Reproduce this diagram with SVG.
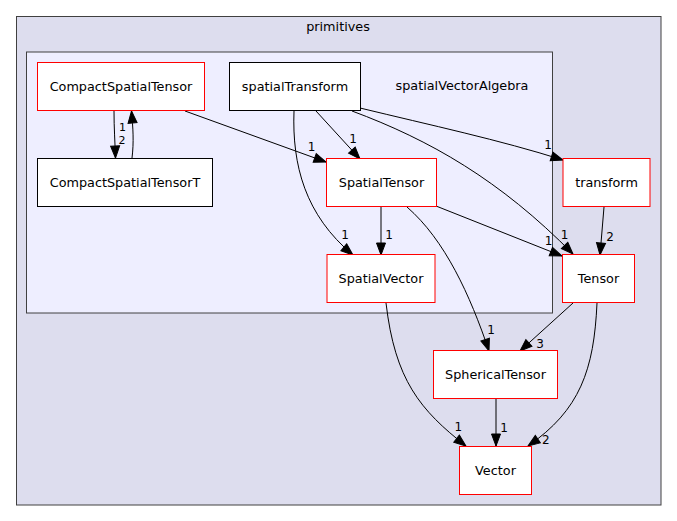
<svg xmlns="http://www.w3.org/2000/svg" width="677" height="521" viewBox="0 0 677 521">
<style>
text{font-family:"DejaVu Sans","Liberation Sans",sans-serif;font-size:12.8px;fill:#000;text-anchor:middle}
.el{font-size:12px}
.sm{font-size:11px}
.cl{stroke:#404040;stroke-width:1}
.nr rect{fill:#fff;stroke:#ff0000;stroke-width:1}
.nb rect{fill:#fff;stroke:#000;stroke-width:1}
#edges path{fill:none;stroke:#000;stroke-width:1;marker-end:url(#ah)}
</style>
<defs>
<marker id="ah" markerUnits="userSpaceOnUse" markerWidth="12" markerHeight="9" refX="12" refY="4.5" orient="auto" overflow="visible">
<path d="M0,0 L12,4.5 L0,9 z" fill="#000" stroke="#000" stroke-width="1"/>
</marker>
</defs>
<rect width="677" height="521" fill="#fff"/>
<g id="cluster-primitives">
<rect class="cl" x="16.5" y="16.5" width="644.5" height="488.5" fill="#ddddee"/>
<text x="338" y="31">primitives</text>
</g>
<g id="cluster-spatialVectorAlgebra">
<rect class="cl" x="26.5" y="52" width="526" height="261" fill="#eeeeff"/>
<text x="462" y="90">spatialVectorAlgebra</text>
</g>
<g id="edges">
<path d="M114,111 C114,128 115,142 115.5,158"/>
<path d="M132,158 C134,142 133,128 131.5,111"/>
<path d="M185,111 L326,162"/>
<path d="M316,111 L360,159"/>
<path d="M294,111 C292,165 305,215 353,255"/>
<path d="M352,111 C430,140 500,180 573,254"/>
<path d="M360,108 C430,125 500,140 563,160"/>
<path d="M381,207 L381,255"/>
<path d="M436,206 L562,256"/>
<path d="M407,207 C445,240 470,295 489,351"/>
<path d="M604,207 L600,255"/>
<path d="M573,303 L520,351"/>
<path d="M597,303 C594,370 580,410 528,446"/>
<path d="M386,303 C395,380 420,410 466,446"/>
<path d="M496,398 L496,446"/>
<text class="el sm" x="122.5" y="131">1</text>
<text class="el sm" x="122" y="144">2</text>
<text class="el" x="311.5" y="151">1</text>
<text class="el" x="353" y="143">1</text>
<text class="el" x="345" y="239">1</text>
<text class="el" x="564.5" y="239">1</text>
<text class="el" x="548" y="149">1</text>
<text class="el" x="389" y="239">1</text>
<text class="el" x="548.5" y="245">1</text>
<text class="el" x="491" y="334">1</text>
<text class="el" x="610" y="240.5">2</text>
<text class="el" x="540" y="347.5">3</text>
<text class="el" x="545.7" y="444">2</text>
<text class="el" x="458.3" y="430.5">1</text>
<text class="el" x="504" y="431.5">1</text>
</g>
<g id="node-CompactSpatialTensor" class="nr"><rect x="37.5" y="62.5" width="167" height="48"/><text x="121" y="91">CompactSpatialTensor</text></g>
<g id="node-spatialTransform" class="nb"><rect x="229.5" y="62.5" width="131" height="48"/><text x="295" y="91">spatialTransform</text></g>
<g id="node-CompactSpatialTensorT" class="nb"><rect x="37.5" y="158.5" width="175" height="48"/><text x="125" y="187">CompactSpatialTensorT</text></g>
<g id="node-SpatialTensor" class="nr"><rect x="326.5" y="158.5" width="110" height="48"/><text x="381.5" y="187">SpatialTensor</text></g>
<g id="node-SpatialVector" class="nr"><rect x="327" y="254.5" width="108" height="48"/><text x="381" y="283">SpatialVector</text></g>
<g id="node-transform" class="nr"><rect x="563" y="158.5" width="87" height="48"/><text x="606.5" y="187">transform</text></g>
<g id="node-Tensor" class="nr"><rect x="562.5" y="254.5" width="72" height="48"/><text x="598.5" y="283">Tensor</text></g>
<g id="node-SphericalTensor" class="nr"><rect x="433.5" y="350.5" width="124" height="48"/><text x="495.5" y="379">SphericalTensor</text></g>
<g id="node-Vector" class="nr"><rect x="459.5" y="446.5" width="72" height="48"/><text x="495.5" y="475">Vector</text></g>
</svg>
